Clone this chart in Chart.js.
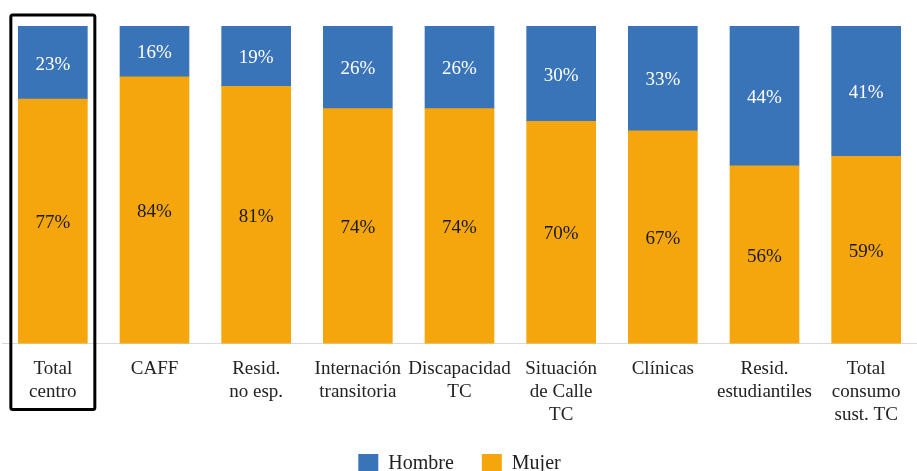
<!DOCTYPE html>
<html>
<head>
<meta charset="utf-8">
<script src="https://cdn.jsdelivr.net/npm/chart.js@4.4.1/dist/chart.umd.min.js"></script>
<style>
    html, body { margin: 0; padding: 0; background: #fff; overflow: hidden; }
    #wrap { position: relative; width: 917px; height: 484px; }
</style>
</head>
<body>
<div id="wrap"><canvas id="genderChart"></canvas></div>
<script>
const categories = [
    ['Total', 'centro'],
    ['CAFF'],
    ['Resid.', 'no esp.'],
    ['Internación', 'transitoria'],
    ['Discapacidad', 'TC'],
    ['Situación', 'de Calle', 'TC'],
    ['Clínicas'],
    ['Resid.', 'estudiantiles'],
    ['Total', 'consumo', 'sust. TC']
];
const mujer = [77, 84, 81, 74, 74, 70, 67, 56, 59];
const hombre = [23, 16, 19, 26, 26, 30, 33, 44, 41];

const COLORS = {
    'blue': '#3a74b8',
    'orange': '#f5a60c',
    'text': '#222222'
};
const FONT = "'Liberation Serif', 'DejaVu Serif', serif";

// etiquetas de porcentaje dentro de cada segmento
const valueLabels = {
    id: 'valueLabels',
    afterDatasetsDraw(chart) {
        const ctx = chart.ctx;
        ctx.save();
        ctx.font = '19px ' + FONT;
        ctx.textAlign = 'center';
        ctx.textBaseline = 'middle';
        chart.data.datasets.forEach((ds, i) => {
            const meta = chart.getDatasetMeta(i);
            meta.data.forEach((bar, j) => {
                const mid = (bar.y + bar.base) / 2;
                ctx.fillStyle = ds.labelColor;
                ctx.fillText(ds.data[j] + '%', bar.x, mid + 2);
            });
        });
        ctx.restore();
    }
};

// recuadro alrededor de la primera categoría
const highlightBox = {
    id: 'highlightBox',
    afterDraw(chart) {
        const ctx = chart.ctx;
        const x = chart.scales.x.getPixelForValue(0);
        const area = chart.chartArea;
        ctx.save();
        ctx.strokeStyle = '#000';
        ctx.lineWidth = 3;
        ctx.beginPath();
        ctx.roundRect(x - 42, area.top - 11, 84, area.bottom - area.top + 77, 2);
        ctx.stroke();
        ctx.restore();
    }
};

const ctx = document.getElementById('genderChart').getContext('2d');
new Chart(ctx, {
    type: 'bar',
    data: {
        labels: categories,
        datasets: [{
            label: 'Mujer',
            data: mujer,
            backgroundColor: COLORS.orange,
            labelColor: '#1a1a1a'
        }, {
            label: 'Hombre',
            data: hombre,
            backgroundColor: COLORS.blue,
            labelColor: '#ffffff'
        }]
    },
    options: {
        responsive: true,
        maintainAspectRatio: false,
        animation: false,
        barThickness: 69,
        layout: {
            padding: {top: 26, left: 2, right: 0, bottom: 0}
        },
        scales: {
            x: {
                stacked: true,
                grid: {display: false, drawTicks: false},
                border: {display: true, color: '#d9d9d9', width: 1},
                ticks: {
                    color: COLORS.text,
                    padding: 14,
                    maxRotation: 0,
                    autoSkip: false,
                    font: {family: FONT, size: 19, lineHeight: 1.2}
                },
                // las etiquetas quedan más cerca de la leyenda
                afterFit(scale) {
                    scale.height -= 14;
                }
            },
            y: {
                stacked: true,
                display: false,
                min: 0,
                max: 100
            }
        },
        plugins: {
            tooltip: {enabled: false},
            legend: {
                position: 'bottom',
                reverse: true,
                labels: {
                    color: COLORS.text,
                    boxWidth: 20,
                    boxHeight: 20,
                    padding: 28,
                    font: {family: FONT, size: 20}
                }
            }
        }
    },
    plugins: [valueLabels, highlightBox]
});
</script>
</body>
</html>
